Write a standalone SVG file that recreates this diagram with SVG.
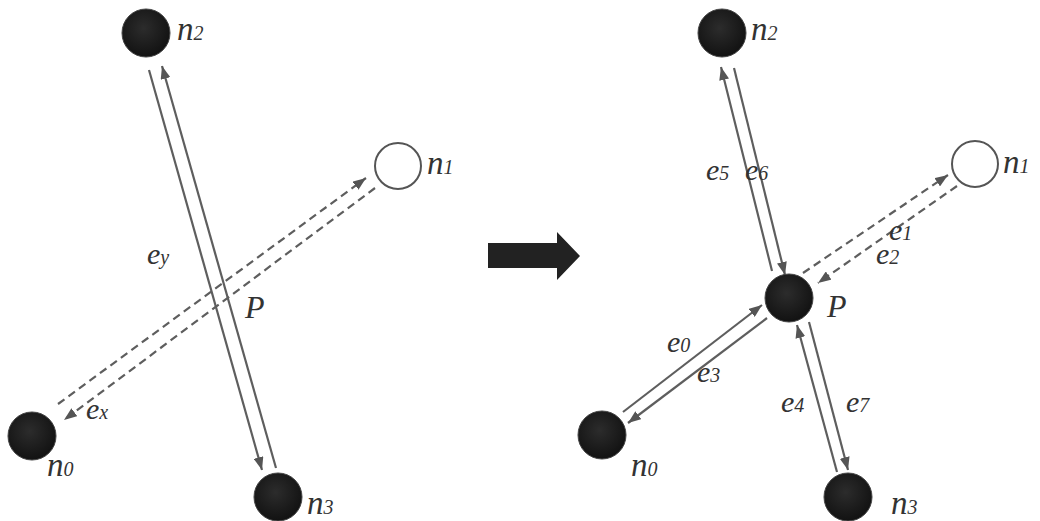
<svg xmlns="http://www.w3.org/2000/svg" width="1040" height="521" viewBox="0 0 1040 521">
<style>
.lbl{font-family:"Liberation Serif",serif;font-style:italic;fill:#333;}
.nl{font-size:33px;}
.el{font-size:30px;}
.sub{font-size:20px;}
.P{font-family:"Liberation Serif",serif;font-style:italic;font-size:32px;fill:#333;}
.edge{stroke:#5e5e5e;stroke-width:2.2;fill:none;marker-end:url(#ah);}
.dash{stroke-dasharray:8 5;}
.node{fill:url(#g);stroke:#444;stroke-width:1;}
.open{fill:#fff;stroke:#555;stroke-width:2;}
</style>
<defs>
<radialGradient id="g" cx="0.45" cy="0.4" r="0.6">
<stop offset="0" stop-color="#2c2c2c"/>
<stop offset="1" stop-color="#121212"/>
</radialGradient>
<marker id="ah" markerUnits="userSpaceOnUse" markerWidth="13" markerHeight="10" refX="13" refY="5" orient="auto">
<path d="M0,0 L13,5 L0,10 z" fill="#555"/>
</marker>
</defs>
<rect width="1040" height="521" fill="#fff"/>

<g id="connectors">
<line class="edge" x1="149" y1="70" x2="262" y2="470"/>
<line class="edge" x1="276" y1="468" x2="162" y2="66"/>
<line class="edge dash" x1="58" y1="404" x2="366" y2="178"/>
<line class="edge dash" x1="375" y1="188" x2="64" y2="420"/>

<line class="edge" x1="772" y1="271" x2="721" y2="67"/>
<line class="edge" x1="734" y1="68" x2="785" y2="275"/>
<line class="edge dash" x1="803" y1="273" x2="948" y2="175"/>
<line class="edge dash" x1="957" y1="186" x2="818" y2="283"/>
<line class="edge" x1="623" y1="412" x2="762" y2="305"/>
<line class="edge" x1="767" y1="318" x2="628" y2="423"/>
<line class="edge" x1="837" y1="472" x2="797" y2="325"/>
<line class="edge" x1="809" y1="322" x2="848" y2="470"/>
</g>

<g id="left-n2"><circle class="node" cx="146" cy="33" r="24"/><text class="lbl nl" x="177" y="40">n<tspan class="sub">2</tspan></text></g>
<g id="left-n1"><circle class="open" cx="398" cy="166" r="23"/><text class="lbl nl" x="427" y="174">n<tspan class="sub">1</tspan></text></g>
<g id="left-n0"><circle class="node" cx="32" cy="436" r="24"/><text class="lbl nl" x="47" y="476">n<tspan class="sub">0</tspan></text></g>
<g id="left-n3"><circle class="node" cx="278" cy="497" r="24"/><text class="lbl nl" x="307" y="514">n<tspan class="sub">3</tspan></text></g>
<g id="left-labels">
<text class="lbl el" x="147" y="264">e<tspan class="sub">y</tspan></text>
<text class="lbl el" x="86" y="419">e<tspan class="sub">x</tspan></text>
<text class="P" x="245" y="318">P</text>
</g>

<g id="big-arrow"><path d="M488,243 L557,243 L557,232 L580,256 L557,280 L557,268 L488,268 z" fill="#222"/></g>

<g id="right-n2"><circle class="node" cx="722" cy="33" r="24"/><text class="lbl nl" x="751" y="40">n<tspan class="sub">2</tspan></text></g>
<g id="right-n1"><circle class="open" cx="975" cy="164" r="23"/><text class="lbl nl" x="1003" y="173">n<tspan class="sub">1</tspan></text></g>
<g id="right-P"><circle class="node" cx="789" cy="298" r="24"/><text class="P" x="827" y="317">P</text></g>
<g id="right-n0"><circle class="node" cx="602" cy="435" r="24"/><text class="lbl nl" x="631" y="476">n<tspan class="sub">0</tspan></text></g>
<g id="right-n3"><circle class="node" cx="848" cy="497" r="24"/><text class="lbl nl" x="891" y="514">n<tspan class="sub">3</tspan></text></g>
<g id="right-labels">
<text class="lbl el" x="706" y="180">e<tspan class="sub">5</tspan></text>
<text class="lbl el" x="745" y="180">e<tspan class="sub">6</tspan></text>
<text class="lbl el" x="889" y="240">e<tspan class="sub">1</tspan></text>
<text class="lbl el" x="876" y="264">e<tspan class="sub">2</tspan></text>
<text class="lbl el" x="667" y="352">e<tspan class="sub">0</tspan></text>
<text class="lbl el" x="697" y="382">e<tspan class="sub">3</tspan></text>
<text class="lbl el" x="781" y="412">e<tspan class="sub">4</tspan></text>
<text class="lbl el" x="846" y="412">e<tspan class="sub">7</tspan></text>
</g>
</svg>
